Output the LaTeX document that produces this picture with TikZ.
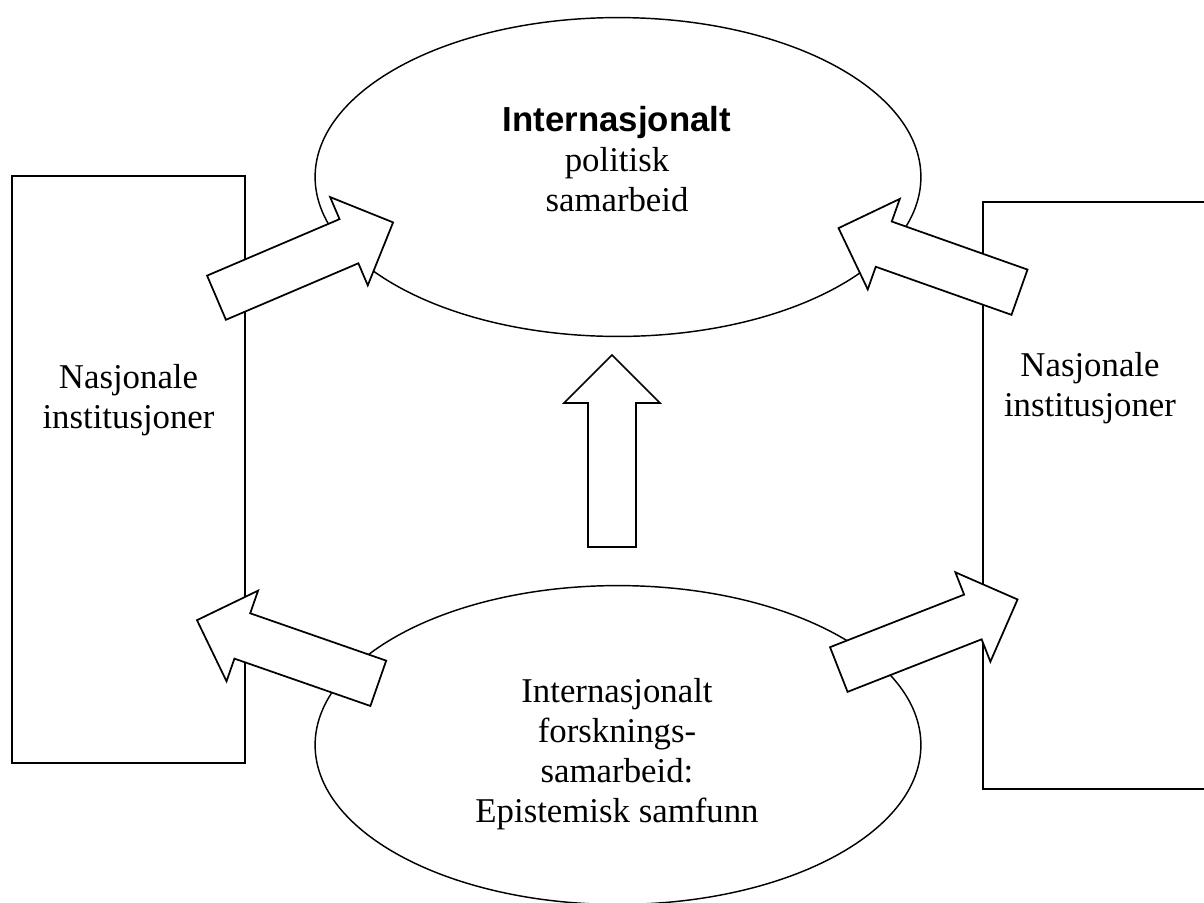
\documentclass[tikz,border=0pt]{standalone}
\usepackage{fontspec}
\setmainfont{Liberation Serif}
\newfontfamily\headsans{Liberation Sans}
\usepackage{tikz}
\usetikzlibrary{shapes.geometric}

\begin{document}
\begin{tikzpicture}[x=0.345pt, y=-0.345pt,
	every node/.style={font=\fontsize{12}{13.8}\selectfont},
	oval/.style={draw, ellipse, line width=0.5pt, inner sep=0pt, minimum width=209pt, minimum height=110pt},
	institution/.style={draw, rectangle, line width=0.6pt, inner sep=0pt, minimum width=80.4pt, minimum height=202.7pt},
	boxtext/.style={align=center, inner sep=0pt},
	bigarrow/.style={draw, fill=white, line width=0.6pt}]

	\useasboundingbox (0,0) rectangle (1204,902);

	%% Draw boxes and ovals
    \node[institution] (venstre) at (128.5,469.5) {};
    \node[institution] (hoyre)   at (1099.5,495.5) {};
    \node[oval] (politikk)  at (618,177) {};
    \node[oval] (forskning) at (618,745) {};

	%% Draw text
    \node[boxtext] (venstretekst) at (128.5,400) {Nasjonale\\institusjoner};
    \node[boxtext] (hoyretekst)   at (1090,388)  {Nasjonale\\institusjoner};
    \node[boxtext] (politikktekst)  at (617,159.5) {{\headsans\bfseries Internasjonalt}\\politisk\\samarbeid};
    \node[boxtext] (forskningtekst) at (617,754) {Internasjonalt\\forsknings-\\samarbeid:\\Epistemisk samfunn};

	%% Draw block arrows
    \draw[bigarrow, shift={(216.5,297.7)}, rotate=23.1]  (0,24) -- (144,24) -- (144,48) -- (192,0) -- (144,-48) -- (144,-24) -- (0,-24) -- cycle;
    \draw[bigarrow, shift={(1019.5,292.2)}, rotate=160.5] (0,24) -- (144,24) -- (144,48) -- (192,0) -- (144,-48) -- (144,-24) -- (0,-24) -- cycle;
    \draw[bigarrow, shift={(378.3,683.3)}, rotate=160.8]  (0,24) -- (144,24) -- (144,48) -- (192,0) -- (144,-48) -- (144,-24) -- (0,-24) -- cycle;
    \draw[bigarrow, shift={(838.8,669.5)}, rotate=21.4]   (0,24) -- (144,24) -- (144,48) -- (192,0) -- (144,-48) -- (144,-24) -- (0,-24) -- cycle;
    \draw[bigarrow, shift={(612,547)}, rotate=90]         (0,24) -- (144,24) -- (144,48) -- (192,0) -- (144,-48) -- (144,-24) -- (0,-24) -- cycle;
\end{tikzpicture}
\end{document}
